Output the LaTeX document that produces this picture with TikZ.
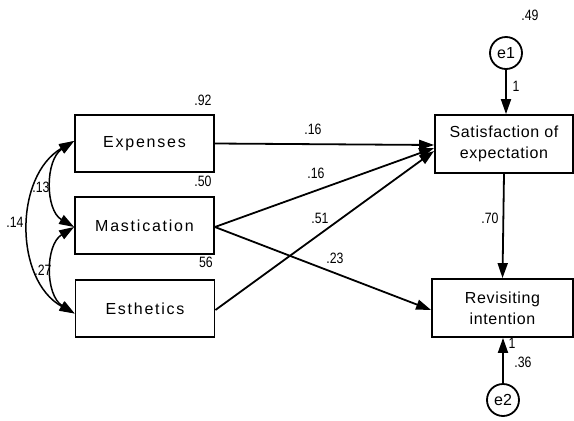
\documentclass[tikz,border=0pt]{standalone}
\usepackage{fontspec}
\setmainfont{Liberation Sans}
\newfontfamily\boxfont[LetterSpace=11]{Liberation Sans}
\newfontfamily\boxfontb[LetterSpace=4]{Liberation Sans}
\usetikzlibrary{arrows.meta}
\newcommand\nmtext[1]{\scalebox{0.82}[1]{#1}}
\begin{document}
\begin{tikzpicture}[x=1pt,y=-1pt,
  box/.style={draw, line width=1.8pt, inner sep=0pt, align=center, minimum height=57pt},
  lbox/.style={box, minimum width=139pt, font=\boxfont\fontsize{16}{20}\selectfont},
  rbox/.style={box, font=\boxfontb\fontsize{16}{21}\selectfont},
  err/.style={draw, circle, line width=1.8pt, inner sep=0pt, minimum size=32pt, font=\fontsize{16}{18}\selectfont},
  num/.style={inner sep=0pt, font=\fontsize{15}{16}\selectfont},
  tip/.style={-{Triangle[length=15pt,width=10pt]}},
  path1/.style={tip, line width=1.8pt},
  cov/.style={{Triangle[length=15pt,width=10pt]}-{Triangle[length=15pt,width=10pt]}, line width=1.5pt}
]
\useasboundingbox (0,0) rectangle (574,421);
\fill[white] (0,0) rectangle (574,421);

\node[lbox] (exp) at (144.5,143.5) {Expenses};
\node[lbox] (mas) at (144.5,225.5) {Mastication};
\node[lbox] (est) at (145,308.5) {Esthetics};
\node[rbox, minimum width=138pt, minimum height=58pt] (sat) at (504,144) {Satisfaction of\\expectation};
\node[rbox, minimum width=141pt, minimum height=58pt] (rev) at (502.5,308) {Revisiting\\intention};
\node[err] (e1) at (506,53) {e1};
\node[err] (e2) at (503,400) {e2};

% regression paths
\draw[path1] (exp.east) -- ([yshift=-1pt]sat.west);
\draw[path1] ([yshift=-1.5pt]mas.east) -- ([yshift=-4pt]sat.west);
\draw[path1] ([yshift=-1.5pt]est.east) -- ([yshift=-7pt]sat.west);
\draw[path1] ([yshift=-1.5pt]mas.east) -- ([yshift=-2pt]rev.west);
\draw[path1] (sat.south) -- (rev.north);
\draw[path1] (e1.south) -- (e1.south |- sat.north);
\draw[path1] (e2.north) -- (e2.north |- rev.south);

% covariances
\coordinate (ce) at ([yshift=2.5pt]exp.west);
\coordinate (cm) at ([yshift=-1.5pt]mas.west);
\coordinate (cs) at ([yshift=-5pt]est.west);
\draw[cov] (ce) .. controls (45,160) and (45,210) .. (cm);
\draw[cov] (cm) .. controls (45,245) and (45,295) .. (cs);
\draw[cov] (ce) .. controls (14,176) and (14,280) .. (cs);

% labels
\node[num] at (203,100) {\nmtext{.92}};
\node[num] at (203,181) {\nmtext{.50}};
\node[num] at (206,262) {\nmtext{56}};
\node[num] at (313,129) {\nmtext{.16}};
\node[num] at (316,173) {\nmtext{.16}};
\node[num] at (320,218) {\nmtext{.51}};
\node[num] at (335,258) {\nmtext{.23}};
\node[num] at (41,187) {\nmtext{.13}};
\node[num] at (15,222) {\nmtext{.14}};
\node[num] at (43,270) {\nmtext{.27}};
\node[num] at (530,15) {\nmtext{.49}};
\node[num] at (516,86) {\nmtext{1}};
\node[num] at (490,218) {\nmtext{.70}};
\node[num] at (512,343) {\nmtext{1}};
\node[num] at (523,362) {\nmtext{.36}};
\end{tikzpicture}
\end{document}
